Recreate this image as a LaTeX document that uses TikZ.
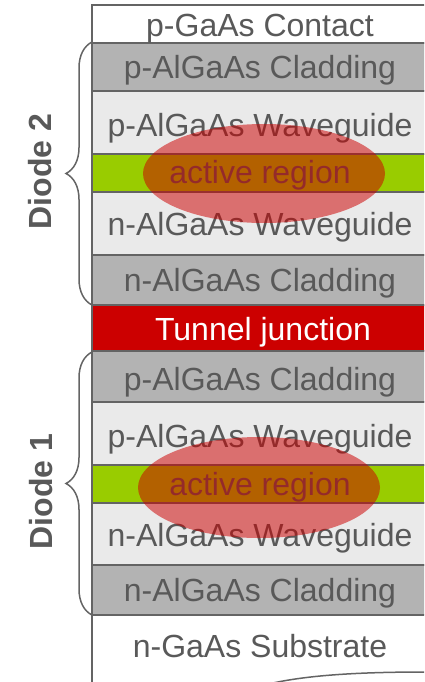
\documentclass[tikz,border=0pt]{standalone}
\usepackage{fontspec}
\setmainfont{Liberation Sans}
\usetikzlibrary{decorations.pathreplacing,shapes.geometric}
\definecolor{txt}{HTML}{595959}
\definecolor{clad}{HTML}{B3B3B3}
\definecolor{wg}{HTML}{EAEAEA}
\definecolor{actg}{HTML}{99CC00}
\definecolor{tjred}{HTML}{CC0000}
\definecolor{edgec}{HTML}{646464}
\begin{document}
\begin{tikzpicture}[x=1pt,y=-1pt,
  layer/.style={draw=edgec, line width=2pt, rectangle, anchor=north west,
    minimum width=345pt, inner sep=0pt, outer sep=0pt},
  lbl/.style={anchor=base, text=txt, font=\fontsize{32}{38}\selectfont, inner sep=0pt},
  dlbl/.style={anchor=base, rotate=90, text=txt, font=\fontsize{32}{38}\selectfont\bfseries, inner sep=0pt},
  glow/.style={ellipse, draw=none, fill=tjred, fill opacity=0.52, inner sep=0pt},
  bracestyle/.style={draw=edgec, line width=1.5pt, decorate, decoration={brace, amplitude=26pt}}]
\useasboundingbox (0,0) rectangle (424,682);
\clip (0,0) rectangle (424,682);
\fill[white] (0,0) rectangle (424,682);
% layers
\node[layer, fill=white, minimum height=38pt] (contact) at (92,5) {};
\node[layer, fill=clad, minimum height=48pt] (pclad2) at (92,43) {};
\node[layer, fill=wg, minimum height=63pt] (pwg2) at (92,91) {};
\node[layer, fill=actg, minimum height=38pt] (act2) at (92,154) {};
\node[layer, fill=wg, minimum height=63pt] (nwg2) at (92,192) {};
\node[layer, fill=clad, minimum height=50pt] (nclad2) at (92,255) {};
\node[layer, fill=tjred, minimum height=46pt] (tj) at (92,305) {};
\node[layer, fill=clad, minimum height=51pt] (pclad1) at (92,351) {};
\node[layer, fill=wg, minimum height=63pt] (pwg1) at (92,402) {};
\node[layer, fill=actg, minimum height=38pt] (act1) at (92,465) {};
\node[layer, fill=wg, minimum height=62pt] (nwg1) at (92,503) {};
\node[layer, fill=clad, minimum height=50pt] (nclad1) at (92,565) {};
\coordinate (subbot) at (92,690);
\draw[edgec, line width=2pt] (nclad1.south west) -- (subbot);
% labels
\node[lbl] (tcontact) at (260,37) {p-GaAs Contact};
\node[lbl] (tpclad2) at (260,79) {p-AlGaAs Cladding};
\node[lbl] (tpwg2) at (260,136) {p-AlGaAs Waveguide};
\node[lbl] (tact2) at (260,183) {active region};
\node[lbl] (tnwg2) at (260,235) {n-AlGaAs Waveguide};
\node[lbl] (tnclad2) at (260,291) {n-AlGaAs Cladding};
\node[lbl, text=white] (ttj) at (263,340) {Tunnel junction};
\node[lbl] (tpclad1) at (260,390) {p-AlGaAs Cladding};
\node[lbl] (tpwg1) at (260,447) {p-AlGaAs Waveguide};
\node[lbl] (tact1) at (260,495) {active region};
\node[lbl] (tnwg1) at (260,546) {n-AlGaAs Waveguide};
\node[lbl] (tnclad1) at (260,601) {n-AlGaAs Cladding};
\node[lbl] (tsub) at (260,657) {n-GaAs Substrate};
% active-region highlights
\node[glow, minimum width=242pt, minimum height=99pt] (e2) at (264,173.5) {};
\node[glow, minimum width=242pt, minimum height=101pt] (e1) at (259,487.5) {};
% braces
\coordinate (b2top) at (92,42);
\coordinate (b2bot) at (92,305);
\coordinate (b1top) at (92,352);
\coordinate (b1bot) at (92,615);
\draw[bracestyle] (b2bot) -- (b2top);
\draw[bracestyle] (b1bot) -- (b1top);
\node[dlbl] (d2) at (51,171.5) {Diode 2};
\node[dlbl] (d1) at (52,491.5) {Diode 1};
% broken-substrate edge
\coordinate (cutl) at (273,683);
\coordinate (cutr) at (426,672);
\draw[edgec, line width=1.5pt] (cutl) .. controls (310,675) and (360,672) .. (cutr);
\end{tikzpicture}
\end{document}
